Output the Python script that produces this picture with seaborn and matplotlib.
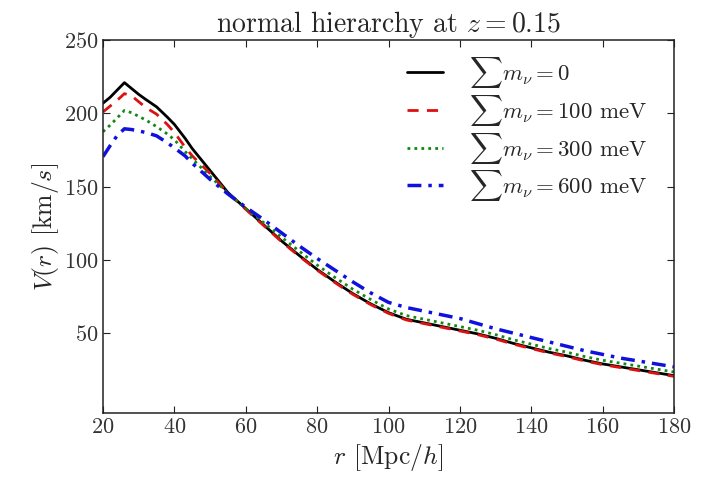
import numpy as np
import pandas as pd
import matplotlib
matplotlib.use("Agg")
import matplotlib.pyplot as plt
import seaborn as sns

# separation r [Mpc/h]
r = [20, 22, 24, 26, 28, 30, 32, 35, 38, 40, 43, 45, 50, 55, 60, 65, 70, 75,
     80, 85, 90, 95, 100, 105, 110, 115, 120, 125, 130, 135, 140, 145, 150,
     155, 160, 165, 170, 175, 180]

# pairwise velocity V(r) [km/s] for each total neutrino mass
v_m0 = [207, 211, 216, 221, 217, 213, 209.5, 204.5, 197.5, 192.5, 183, 176,
        161, 146, 135, 124, 113, 103, 93.5, 85, 77, 70, 64, 59.5, 57, 54.5, 52,
        49.5, 46.5, 43, 40, 37, 34.5, 31.5, 29, 27, 25, 23, 21]
v_m100 = [201, 205, 209, 213.5, 212, 208, 204, 199.5, 192.5, 187, 177, 171,
          159, 145.5, 134.5, 123.5, 112.5, 102.5, 93, 84.5, 76.5, 69.5, 63.5, 59,
          56.5, 54, 51.5, 49, 46, 42.5, 39.5, 36.5, 34, 31, 28.5, 26.5, 24.5,
          22.5, 20.5]
v_m300 = [187.5, 192, 197, 202, 200.5, 198, 195.5, 191, 186, 182, 174, 169, 157,
          145.5, 135, 125.5, 115.5, 106, 96.5, 88, 80, 73, 66.5, 62, 59.5, 57,
          54.5, 52, 49, 45.5, 42.5, 39.5, 37, 34, 31.5, 29.5, 27.5, 25.5, 23.5]
v_m600 = [170.5, 178, 185, 189.5, 189, 188, 187, 184.7, 180, 176.5, 171, 166,
          155, 145, 136, 127.5, 118.5, 109.5, 101, 93, 85, 77.5, 71, 67.5, 65,
          62.5, 60, 56.5, 53, 50, 47, 44, 41, 38, 35.5, 33, 31, 29, 27]

labels = [r"$\sum m_\nu = 0$",
          r"$\sum m_\nu = 100$ meV",
          r"$\sum m_\nu = 300$ meV",
          r"$\sum m_\nu = 600$ meV"]
series = [v_m0, v_m100, v_m300, v_m600]

x_ticks = [20, 40, 60, 80, 100, 120, 140, 160, 180]
y_ticks = [50, 100, 150, 200, 250]

sns.set_style("ticks")
plt.rcParams.update({
    "font.family": "serif",
    "font.serif": ["cmr10", "DejaVu Serif"],
    "mathtext.fontset": "cm",
    "axes.formatter.use_mathtext": True,
    "xtick.direction": "in",
    "ytick.direction": "in",
    "xtick.top": True,
    "ytick.right": True,
    "xtick.major.size": 5,
    "ytick.major.size": 5,
    "axes.linewidth": 1.1,
    "axes.edgecolor": "#222222",
    "figure.facecolor": "white",
    "savefig.facecolor": "white",
})

df = pd.DataFrame({
    "r": np.tile(r, len(series)),
    "V": np.concatenate(series),
    "model": np.repeat(labels, len(r)),
})

fig = plt.figure(figsize=(7.08, 4.84), dpi=100, facecolor="white")
ax = fig.add_axes([0.1455, 0.1467, 0.8065, 0.7703])
ax.set_facecolor("white")

colors = ["black", "#dd1111", "#118811", "#1111dd"]
styles = ["-", (0, (4, 3)), (0, (1, 1.5)), (0, (4, 2, 1, 2))]
widths = [2.0, 2.0, 2.0, 2.5]
for lab, col, ls, lw in zip(labels, colors, styles, widths):
    sub = df[df["model"] == lab]
    sns.lineplot(data=sub, x="r", y="V", ax=ax, color=col, linestyle=ls,
                 linewidth=lw, label=lab)

ax.set_xlim(20, 180)
ax.set_ylim(-4.5, 250)
ax.set_xticks(x_ticks)
ax.set_yticks(y_ticks)
ax.tick_params(labelsize=16, colors="#222222", width=0.8)
for t in ax.get_xticklabels() + ax.get_yticklabels():
    t.set_color("#333333")

ax.set_xlabel(r"$r$ [Mpc/$h$]", fontsize=18.5, labelpad=3)
ax.set_ylabel(r"$V(r)$ [km/$s$]", fontsize=18.5, labelpad=2)
ax.set_title(r"normal hierarchy at $z = 0.15$", fontsize=20, pad=5)

leg = ax.legend(loc="upper right", bbox_to_anchor=(0.979, 1.0), frameon=False,
                fontsize=16.5, handlelength=1.6, labelspacing=0.12,
                handletextpad=1.1, borderaxespad=0.25)

fig.savefig("out.png", dpi=100, facecolor="white")
